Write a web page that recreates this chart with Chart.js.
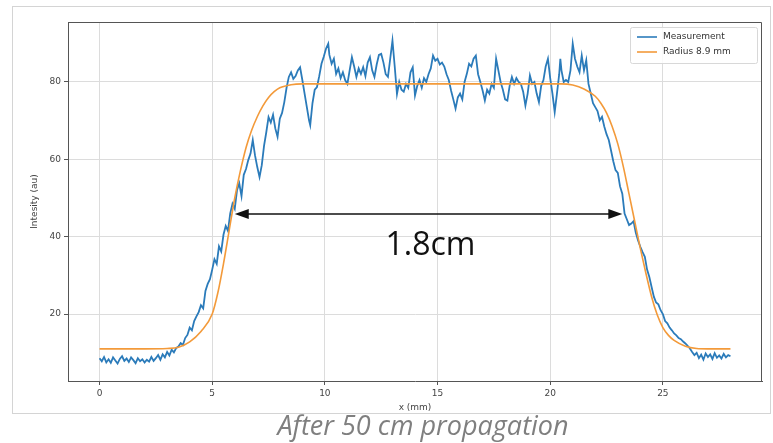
<!DOCTYPE html>
<html>
<head>
<meta charset="utf-8">
<script src="https://cdn.jsdelivr.net/npm/chart.js@4.4.1/dist/chart.umd.min.js"></script>
<style>
  html, body { margin: 0; padding: 0; background: #fff; }
  canvas { display: block; }
</style>
</head>
<body>
<canvas id="profileChart" width="773" height="443"></canvas>
<script>
// beam profile after 50 cm propagation: measurement vs fitted top-hat
const measX = [0.0,0.1,0.2,0.3,0.4,0.5,0.6,0.7,0.8,0.9,1.0,1.1,1.2,1.3,1.4,1.5,1.6,1.7,1.8,1.9,
  2.0,2.1,2.2,2.3,2.4,2.5,2.6,2.7,2.8,2.9,3.0,3.1,3.2,3.3,3.4,3.5,3.6,3.7,3.8,3.9,
  4.0,4.1,4.2,4.3,4.4,4.5,4.6,4.7,4.8,4.9,5.0,5.1,5.2,5.3,5.4,5.5,5.6,5.7,5.8,5.9,
  6.0,6.1,6.2,6.3,6.4,6.5,6.6,6.7,6.8,6.9,7.0,7.1,7.2,7.3,7.4,7.5,7.6,7.7,7.8,7.9,
  8.0,8.1,8.2,8.3,8.4,8.5,8.6,8.7,8.8,8.9,9.0,9.1,9.2,9.3,9.35,9.45,9.55,9.65,9.75,9.85,
  9.95,10.05,10.15,10.2,10.3,10.4,10.5,10.6,10.7,10.8,10.9,11.0,11.1,11.2,11.3,11.4,11.5,11.6,11.7,11.8,
  11.9,12.0,12.1,12.2,12.3,12.4,12.5,12.6,12.7,12.8,12.9,13.0,13.1,13.2,13.3,13.4,13.5,13.6,13.7,13.8,
  13.9,14.0,14.1,14.2,14.3,14.4,14.5,14.6,14.7,14.8,14.9,15.0,15.1,15.2,15.3,15.4,15.5,15.6,15.7,15.8,
  15.9,16.0,16.1,16.2,16.3,16.4,16.5,16.6,16.7,16.8,16.9,17.0,17.1,17.2,17.3,17.4,17.5,17.6,17.7,17.8,
  17.9,18.0,18.1,18.2,18.3,18.4,18.5,18.6,18.7,18.8,18.9,19.0,19.1,19.2,19.3,19.4,19.5,19.6,19.7,19.8,
  19.9,20.0,20.1,20.2,20.3,20.4,20.45,20.5,20.6,20.7,20.8,20.9,21.0,21.1,21.2,21.3,21.4,21.5,21.6,21.7,
  21.8,21.9,22.0,22.1,22.2,22.3,22.4,22.5,22.6,22.7,22.8,22.9,23.0,23.1,23.2,23.3,23.4,23.5,23.6,23.7,
  23.8,23.9,24.0,24.1,24.2,24.3,24.4,24.5,24.6,24.7,24.8,24.9,25.0,25.1,25.2,25.3,25.4,25.5,25.6,25.7,
  25.8,25.9,26.0,26.1,26.2,26.3,26.4,26.5,26.6,26.7,26.8,26.9,27.0,27.1,27.2,27.3,27.4,27.5,27.6,27.7,
  27.8,27.9,28.0];
const measY = [8.6,7.8,8.9,7.5,8.3,7.4,8.8,8.0,7.2,8.4,9.1,7.9,8.5,7.6,8.8,8.1,7.3,8.6,7.8,8.3,
  7.5,8.2,7.7,8.9,7.9,8.6,9.4,8.2,9.6,8.8,10.2,9.3,10.8,10.1,11.2,11.6,12.5,12.0,13.8,14.6,
  16.5,15.8,18.2,19.4,20.5,22.3,21.5,26.0,27.8,29.0,31.5,34.2,33.0,37.5,36.2,40.5,42.8,41.5,46.0,48.5,
  47.2,52.0,53.8,50.5,56.0,57.5,59.8,61.5,65.0,61.0,58.0,55.4,58.5,63.5,67.0,70.9,69.5,71.5,68.0,65.8,
  70.5,72.0,74.8,78.5,81.3,82.5,80.8,81.5,83.0,83.8,80.5,77.0,73.5,70.0,68.8,74.5,78.0,78.7,81.5,84.7,
  86.5,88.6,89.9,87.0,84.7,86.0,82.1,83.5,81.0,82.5,80.5,79.5,83.0,86.4,84.0,81.3,83.5,82.1,83.8,81.5,
  85.0,86.4,83.0,81.3,84.5,87.0,87.3,85.0,82.0,81.3,86.0,90.7,84.0,76.9,80.0,78.0,77.5,79.5,78.5,82.5,
  83.8,76.5,79.0,80.5,78.5,81.0,80.0,82.0,83.5,86.8,85.5,86.0,84.5,85.0,84.0,82.0,80.5,77.8,75.5,73.1,
  76.0,77.0,75.5,80.0,82.1,84.7,84.0,86.0,86.8,82.0,80.0,77.8,75.2,78.0,77.0,79.5,78.5,86.0,83.0,80.0,
  78.0,75.5,75.2,79.0,81.3,79.5,81.0,80.0,79.5,77.5,73.9,77.0,81.7,79.5,80.0,77.0,74.8,79.0,80.5,84.0,
  86.0,81.0,77.0,72.2,77.0,82.0,86.0,83.0,80.0,80.5,80.0,83.0,89.9,86.0,84.0,82.5,86.8,83.0,85.6,79.5,
  77.0,74.5,73.5,72.5,70.1,71.0,68.5,66.5,65.0,62.3,59.5,57.2,56.5,53.0,51.1,46.0,44.5,43.0,43.4,44.0,
  41.0,39.0,37.4,36.0,34.8,31.5,29.6,27.0,24.5,23.0,22.5,21.0,20.0,18.2,17.6,16.5,15.8,15.0,14.5,13.8,
  13.5,12.9,12.4,11.8,11.1,10.2,9.4,10.0,8.6,9.5,8.2,9.8,8.9,9.6,8.4,9.9,8.7,9.3,8.5,9.7,
  8.8,9.4,9.1];

const fitX = [0,1,2,3,3.5,4,4.5,5,5.25,5.5,5.75,6,6.25,6.5,6.75,7,7.25,7.5,7.75,8,8.5,9,
  12,15,18,20.5,21,21.5,22,22.25,22.5,22.75,23,23.25,23.5,23.75,24,24.25,24.5,24.75,25,25.25,25.5,26,26.5,27,28];
const fitY = [11,11,11,11.1,11.4,12.8,15.5,20,25.5,33,41.5,50,57,63,67.5,71,73.8,76,77.5,78.5,79.3,79.5,
  79.5,79.5,79.5,79.5,79.2,78.2,76.3,74.5,72,68.5,64,58,51,44,37,30.5,24.5,19.8,16.5,14.5,13.2,11.7,11.1,11,11];

const xTicks = [0, 5, 10, 15, 20, 25];
const yTicks = [20, 40, 60, 80];
const widthArrowX = [6.0, 23.2];
const widthArrowY = 45.9;
const widthLabel = '1.8cm';
const caption = 'After 50 cm propagation';

const BLUE = '#2b7bba';
const ORANGE = '#f39a3a';
const SPINE = '#555555';
const GRID = '#dcdcdc';

const extras = {
  id: 'extras',
  beforeDraw(chart) {
    const ctx = chart.ctx;
    ctx.save();
    ctx.fillStyle = '#fff';
    ctx.fillRect(0, 0, chart.width, chart.height);
    ctx.strokeStyle = '#d4d4d4';
    ctx.lineWidth = 1;
    ctx.strokeRect(12.5, 6.5, 758, 407);
    ctx.restore();
  },
  afterDraw(chart) {
    const ctx = chart.ctx;
    const ca = chart.chartArea;
    const xs = chart.scales.x, ys = chart.scales.y;
    ctx.save();

    // top and right spines
    ctx.strokeStyle = SPINE;
    ctx.lineWidth = 1;
    ctx.beginPath();
    ctx.moveTo(ca.left, ca.top + 0.5);
    ctx.lineTo(ca.right - 0.5, ca.top + 0.5);
    ctx.lineTo(ca.right - 0.5, ca.bottom);
    ctx.stroke();

    // legend
    const lw = 127, lh = 36;
    const lx = ca.right - 5 - lw, ly = ca.top + 5;
    ctx.fillStyle = 'rgba(255,255,255,0.85)';
    ctx.strokeStyle = '#d8d8d8';
    ctx.beginPath();
    ctx.roundRect(lx + 0.5, ly + 0.5, lw, lh, 2);
    ctx.fill();
    ctx.stroke();
    ctx.font = '9px "DejaVu Sans"';
    ctx.textBaseline = 'middle';
    chart.data.datasets.forEach((ds, i) => {
      const yy = ly + 10 + i * 15;
      ctx.strokeStyle = ds.borderColor;
      ctx.lineWidth = 1.6;
      ctx.beginPath();
      ctx.moveTo(lx + 7, yy);
      ctx.lineTo(lx + 27, yy);
      ctx.stroke();
      ctx.fillStyle = '#333';
      ctx.fillText(ds.label, lx + 33, yy);
    });

    // width annotation
    const x1 = xs.getPixelForValue(widthArrowX[0]);
    const x2 = xs.getPixelForValue(widthArrowX[1]);
    const ay = ys.getPixelForValue(widthArrowY);
    const head = 14, hw = 5;
    ctx.strokeStyle = '#111';
    ctx.fillStyle = '#111';
    ctx.lineWidth = 1.5;
    ctx.beginPath();
    ctx.moveTo(x1 + head - 2, ay);
    ctx.lineTo(x2 - head + 2, ay);
    ctx.stroke();
    ctx.beginPath();
    ctx.moveTo(x1, ay);
    ctx.lineTo(x1 + head, ay - hw);
    ctx.lineTo(x1 + head, ay + hw);
    ctx.closePath();
    ctx.fill();
    ctx.beginPath();
    ctx.moveTo(x2, ay);
    ctx.lineTo(x2 - head, ay - hw);
    ctx.lineTo(x2 - head, ay + hw);
    ctx.closePath();
    ctx.fill();

    ctx.font = '32px "Open Sans"';
    ctx.textAlign = 'center';
    ctx.textBaseline = 'middle';
    ctx.fillStyle = '#111';
    ctx.fillText(widthLabel, (x1 + x2) / 2 + 2, ay + 32);

    // caption under the figure
    ctx.font = 'italic 27px "Open Sans"';
    ctx.fillStyle = '#7f7f7f';
    ctx.fillText(caption, 423, 427);
    ctx.restore();
  }
};

new Chart(document.getElementById('profileChart'), {
  type: 'line',
  data: {
    datasets: [{
      label: 'Measurement',
      data: measX.map((x, i) => ({ x, y: measY[i] })),
      borderColor: BLUE,
      borderWidth: 1.8,
      pointRadius: 0,
      tension: 0,
      order: 2
    }, {
      label: 'Radius 8.9 mm',
      data: fitX.map((x, i) => ({ x, y: fitY[i] })),
      borderColor: ORANGE,
      borderWidth: 1.6,
      pointRadius: 0,
      cubicInterpolationMode: 'monotone',
      order: 1
    }]
  },
  options: {
    responsive: false,
    animation: false,
    devicePixelRatio: 1,
    layout: { padding: { left: 12, right: 11, top: 22, bottom: 27 } },
    plugins: { legend: { display: false }, tooltip: { enabled: false } },
    scales: {
      x: {
        type: 'linear',
        min: -1.4,
        max: 29.4,
        afterBuildTicks: s => { s.ticks = xTicks.map(v => ({ value: v })); },
        afterFit: s => { s.height = 35; },
        grid: { color: GRID, tickColor: SPINE, tickLength: 4 },
        border: { color: SPINE, width: 1 },
        ticks: { color: '#444', padding: 3, font: { family: 'DejaVu Sans', size: 9 }, maxRotation: 0 },
        title: { display: true, text: 'x (mm)', color: '#444', font: { family: 'DejaVu Sans', size: 9 }, padding: { top: 0, bottom: 2.6 } }
      },
      y: {
        min: 2.7,
        max: 95.5,
        afterBuildTicks: s => { s.ticks = yTicks.map(v => ({ value: v })); },
        afterFit: s => { s.width = 56; },
        grid: { color: GRID, tickColor: SPINE, tickLength: 4 },
        border: { color: SPINE, width: 1 },
        ticks: { color: '#444', padding: 3, font: { family: 'DejaVu Sans', size: 9 } },
        title: { display: true, text: 'Intesity (au)', color: '#444', font: { family: 'DejaVu Sans', size: 9 }, padding: { top: 17.6, bottom: 0 } }
      }
    }
  },
  plugins: [extras]
});
</script>
</body>
</html>
